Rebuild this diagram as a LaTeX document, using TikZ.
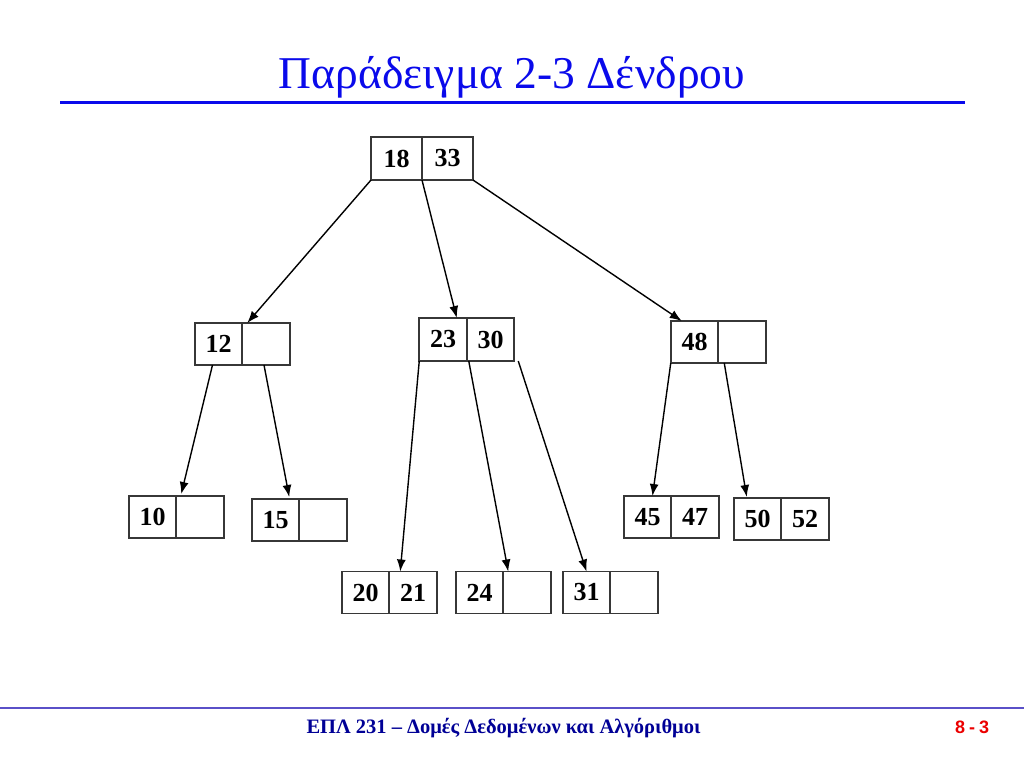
\documentclass[tikz,border=0pt]{standalone}
\usepackage{fontspec}
\setmainfont{Liberation Serif}
\newfontfamily\slidesans{Liberation Sans}
\usetikzlibrary{arrows.meta,positioning,calc}
\definecolor{titleblue}{RGB}{10,10,235}
\definecolor{footblue}{RGB}{0,0,150}
\definecolor{rulepurple}{RGB}{90,80,200}
\definecolor{pagered}{RGB}{235,0,0}
\definecolor{boxgray}{RGB}{55,55,55}
\tikzset{
  cell/.style={draw=boxgray, line width=1.8pt, minimum width=47.5pt,
    minimum height=42pt, font=\bfseries\fontsize{26}{30}\selectfont},
  rootcell/.style={cell, minimum width=51pt, minimum height=43pt},
  link/.style={draw=black, line width=1.4pt, -{Latex[length=12pt,width=9pt]}}
}

\begin{document}
\begin{tikzpicture}[y=1pt, x=1pt, yscale=-1, inner sep=0pt, outer sep=0pt]
  \useasboundingbox (0,0) rectangle (1024,768);

  % title and rules
  \node[anchor=base, text=titleblue, font=\fontsize{45.5}{50}\selectfont]
    (title) at (512,88) {Παράδειγμα 2-3 Δένδρου};
  \path[draw=titleblue, line width=3pt] (60,102) -- (965,102);
  \path[draw=rulepurple, line width=1.8pt] (0,708) -- (1024,708);
  \node[anchor=base, text=footblue, font=\bfseries\fontsize{20.5}{22}\selectfont]
    (course) at (503.5,733) {ΕΠΛ 231 – Δομές Δεδομένων και Αλγόριθμοι};
  \node[anchor=base, text=pagered, font=\slidesans\bfseries\fontsize{18}{20}\selectfont]
    (page) at (972,733) {8\kern4pt-\kern4pt3};

  % root
  \node[rootcell] (key18) at (396.5,158.5) {18};
  \node[rootcell, right=0pt of key18] (key33) {33};

  % second level
  \node[cell] (key12) at (218.5,344) {12};
  \node[cell, right=0pt of key12] (free12) {};
  \node[cell, minimum height=43pt] (key23) at (443,339.5) {23};
  \node[cell, minimum height=43pt, right=0pt of key23] (key30) {30};
  \node[cell] (key48) at (694.5,342) {48};
  \node[cell, right=0pt of key48] (free48) {};

  % leaves
  \node[cell] (key10) at (152.5,517) {10};
  \node[cell, right=0pt of key10] (free10) {};
  \node[cell] (key15) at (275.5,520) {15};
  \node[cell, right=0pt of key15] (free15) {};
  \node[cell] (key20) at (365.5,592.5) {20};
  \node[cell, right=0pt of key20] (key21) {21};
  \node[cell] (key24) at (479.5,592.5) {24};
  \node[cell, right=0pt of key24] (free24) {};
  \node[cell] (key31) at (586.5,592.5) {31};
  \node[cell, right=0pt of key31] (free31) {};
  \node[cell] (key45) at (647.5,517) {45};
  \node[cell, right=0pt of key45] (key47) {47};
  \node[cell] (key50) at (757.5,519) {50};
  \node[cell, right=0pt of key50] (key52) {52};

  % pointers
  \path[link] (key18.south west) -- ($(free12.north west)+(5,0)$);
  \path[link] (key18.south east) -- ($(key23.north east)+(-10,0)$);
  \path[link] (key33.south east) -- ($(key48.north west)+(11,0)$);
  \path[link] ($(key12.south)+(-6,0)$) -- ($(key10.north east)+(5,-2)$);
  \path[link] ($(free12.south)+(-2,0)$) -- ($(key15.north east)+(-10,-2)$);
  \path[link] (key23.south west) -- ($(key21.north west)+(11,0)$);
  \path[link] ($(key23.south east)+(2,0)$) -- ($(free24.north west)+(5,0)$);
  \path[link] ($(key30.south east)+(4,0)$) -- (key31.north);
  \path[link] (key48.south west) -- ($(key45.north)+(5,0)$);
  \path[link] ($(free48.south west)+(6,0)$) -- ($(key50.north west)+(13,-1)$);

\end{tikzpicture}
\end{document}
